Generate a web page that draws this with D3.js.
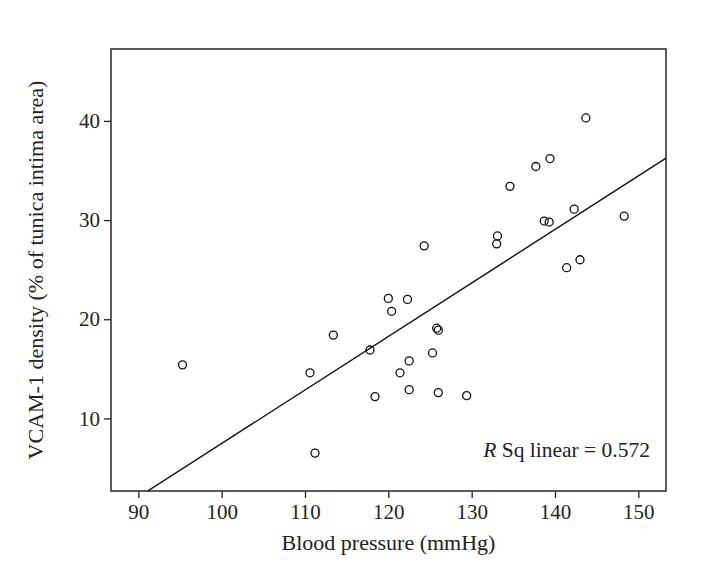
<!DOCTYPE html>
<html lang="en">
<head>
  <meta charset="UTF-8" />
  <title>VCAM-1 density vs blood pressure</title>
  <script src="https://d3js.org/d3.v7.min.js"></script>
  <style>
    body {
      background-color: white;
      margin: 0;
    }

    svg {
      display: block;
      font-family: "Liberation Serif", "DejaVu Serif", serif;
    }

    .tick text {
      font-size: 21px;
      fill: #222;
    }

    .axis-title {
      font-size: 22px;
      fill: #222;
    }

    .rsq {
      font-size: 21.5px;
      fill: #222;
    }
  </style>
</head>
<body>
  <svg></svg>

  <script>
    // data
    const bloodPressure = [95.3, 110.6, 111.2, 113.4, 117.8, 118.4, 120.0, 120.4, 121.4, 122.3,
                           122.5, 122.5, 124.3, 125.3, 125.8, 126.0, 126.0, 129.4, 133.1, 133.0,
                           134.6, 137.7, 138.7, 139.3, 139.4, 142.3, 141.4, 143.0, 143.7, 148.3];
    const vcamDensity   = [15.4, 14.6, 6.5, 18.4, 16.9, 12.2, 22.1, 20.8, 14.6, 22.0,
                           15.8, 12.9, 27.4, 16.6, 19.1, 18.9, 12.6, 12.3, 28.4, 27.6,
                           33.4, 35.4, 29.9, 29.8, 36.2, 31.1, 25.2, 26.0, 40.3, 30.4];
    const xTicks = [90, 100, 110, 120, 130, 140, 150];
    const yTicks = [10, 20, 30, 40];
    // fit line as shown (R Sq linear = 0.572)
    const fitSlope = 0.5397;
    const fitIntercept = -46.50;
    const rSqLabel = "0.572";

    const width = 720;
    const height = 581;
    const margin = { top: 49, right: 54, bottom: 90, left: 111 };

    const svg = d3.select("svg")
      .attr("width", width)
      .attr("height", height);

    const x = d3.scaleLinear()
      .domain([86.72, 153.32])
      .range([margin.left, width - margin.right]);

    const y = d3.scaleLinear()
      .domain([2.68, 47.25])
      .range([height - margin.bottom, margin.top]);

    svg.append("defs").append("clipPath")
      .attr("id", "plot-clip")
      .append("rect")
      .attr("x", margin.left)
      .attr("y", margin.top)
      .attr("width", x.range()[1] - margin.left)
      .attr("height", y.range()[0] - margin.top);

    // x axis
    const xAxis = svg.append("g")
      .attr("transform", `translate(0,${height - margin.bottom})`)
      .call(d3.axisBottom(x).tickValues(xTicks).tickSize(7).tickPadding(6).tickFormat(d3.format("d")));

    // y axis
    const yAxis = svg.append("g")
      .attr("transform", `translate(${margin.left},0)`)
      .call(d3.axisLeft(y).tickValues(yTicks).tickSize(7).tickPadding(4).tickFormat(d3.format("d")));

    [xAxis, yAxis].forEach(g => {
      g.attr("font-family", null).attr("font-size", null);
      g.select(".domain").remove();
      g.selectAll(".tick line").attr("stroke", "#222").attr("stroke-width", 1.3);
    });

    // frame
    svg.append("rect")
      .attr("x", margin.left)
      .attr("y", margin.top)
      .attr("width", x.range()[1] - margin.left)
      .attr("height", y.range()[0] - margin.top)
      .attr("fill", "none")
      .attr("stroke", "#333")
      .attr("stroke-width", 1.6);

    // fit line
    const xd = x.domain();
    svg.append("line")
      .attr("clip-path", "url(#plot-clip)")
      .attr("x1", x(xd[0]))
      .attr("y1", y(fitSlope * xd[0] + fitIntercept))
      .attr("x2", x(xd[1]))
      .attr("y2", y(fitSlope * xd[1] + fitIntercept))
      .attr("stroke", "#111")
      .attr("stroke-width", 1.4);

    // points
    svg.append("g")
      .selectAll("circle")
      .data(d3.range(bloodPressure.length))
      .enter().append("circle")
      .attr("cx", i => x(bloodPressure[i]))
      .attr("cy", i => y(vcamDensity[i]))
      .attr("r", 4)
      .attr("fill", "none")
      .attr("stroke", "#111")
      .attr("stroke-width", 1.3);

    // R squared label
    const rsq = svg.append("text")
      .attr("class", "rsq")
      .attr("x", 650)
      .attr("y", 457)
      .attr("text-anchor", "end");
    rsq.append("tspan").attr("font-style", "italic").text("R");
    rsq.append("tspan").text(" Sq linear = " + rSqLabel);

    // axis titles
    svg.append("text")
      .attr("class", "axis-title")
      .attr("x", (margin.left + x.range()[1]) / 2)
      .attr("y", 550)
      .attr("text-anchor", "middle")
      .text("Blood pressure (mmHg)");

    svg.append("text")
      .attr("class", "axis-title")
      .attr("transform", `translate(43,${(margin.top + y.range()[0]) / 2}) rotate(-90)`)
      .attr("text-anchor", "middle")
      .text("VCAM-1 density (% of tunica intima area)");
  </script>
</body>
</html>
